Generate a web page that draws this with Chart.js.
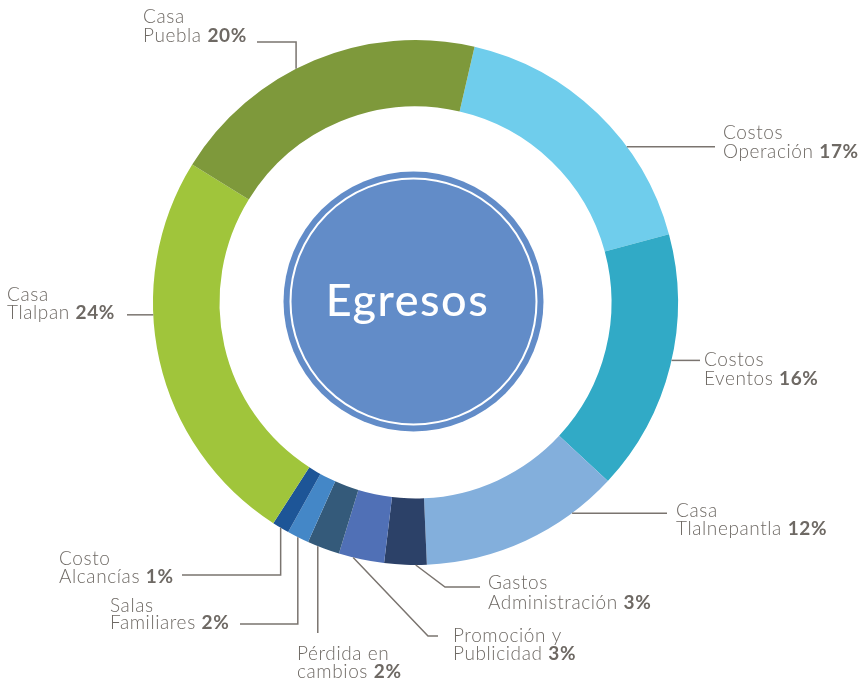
<!DOCTYPE html>
<html>
<head>
<meta charset="utf-8">
<script src="https://cdn.jsdelivr.net/npm/chart.js@4.4.0/dist/chart.umd.min.js"></script>
<style>
  html, body { margin: 0; padding: 0; background: #ffffff; }
  #wrap { width: 859px; height: 680px; position: relative; }
</style>
</head>
<body>
<div id="wrap"><canvas id="c" width="859" height="680"></canvas></div>
<script>
// ---- data ----
const categories = ["Costos Operación", "Costos Eventos", "Casa Tlalnepantla", "Gastos Administración",
  "Promoción y Publicidad", "Pérdida en cambios", "Salas Familiares", "Costo Alcancías", "Casa Tlalpan", "Casa Puebla"];
const values = [17.2, 16.1, 12.4, 2.6, 2.8, 2.0, 1.35, 1.05, 24.7, 19.8];
const percentLabels = ["17%", "16%", "12%", "3%", "3%", "2%", "2%", "1%", "24%", "20%"];
const labelLine1 = ["Costos", "Costos", "Casa", "Gastos", "Promoción y", "Pérdida en", "Salas", "Costo", "Casa", "Casa"];
const labelLine2 = ["Operación", "Eventos", "Tlalnepantla", "Administración", "Publicidad", "cambios", "Familiares", "Alcancías", "Tlalpan", "Puebla"];
const colors = ["#6fcdec", "#31aac6", "#83afdc", "#2c4168", "#5070b6", "#345a7a", "#4487c7", "#1d5597", "#a0c53b", "#7e993b"];
const centerTitle = "Egresos";

// ---- label layout (positions only) ----
const labelLayout = [
  { x: 723, y1: 139, y2: 158, f: 0.656, type: "h", toX: 715 },
  { x: 704, y1: 366, y2: 385, f: 0.48, type: "h", toX: 700 },
  { x: 676, y1: 517, y2: 535, f: 0.235, type: "h", toX: 667 },
  { x: 488, y1: 589, y2: 609, f: 0.26, type: "d", elbow: [445, 587], toX: 480 },
  { x: 453, y1: 642, y2: 660, f: 0.68, type: "d", elbow: [428, 636], toX: 438 },
  { x: 297, y1: 660, y2: 678, f: 0.68, type: "v", toY: 633 },
  { x: 110, y1: 612, y2: 629, f: 0.51, type: "v", toY: 624, toX: 240 },
  { x: 59, y1: 565, y2: 583, f: 0.5, type: "v", toY: 575, toX: 182 },
  { x: 7, y1: 301, y2: 319, f: 0.613, type: "h", toX: 127 },
  { x: 143, y1: 23, y2: 42, f: 0.438, type: "v", toY: 42, toX: 257 }
];

const TEXT_COLOR = "#6e6964";
const LINE_COLOR = "#7a746f";
const FONT_FAMILY = "Lato, 'Open Sans', sans-serif";

const labelsPlugin = {
  id: "labelsPlugin",
  afterDatasetsDraw(chart) {
    const ctx = chart.ctx;
    const meta = chart.getDatasetMeta(0);
    const first = meta.data[0];
    const cx = first.x, cy = first.y;

    // center circle
    ctx.save();
    ctx.beginPath();
    ctx.arc(cx - 2, cy - 1, 130, 0, Math.PI * 2);
    ctx.fillStyle = "#628cc8";
    ctx.fill();
    ctx.beginPath();
    ctx.arc(cx - 2, cy - 1, 123, 0, Math.PI * 2);
    ctx.strokeStyle = "#ffffff";
    ctx.lineWidth = 2;
    ctx.stroke();
    ctx.fillStyle = "#ffffff";
    ctx.font = "500 45px " + FONT_FAMILY;
    ctx.letterSpacing = "1.5px";
    ctx.textAlign = "center";
    ctx.textBaseline = "alphabetic";
    ctx.fillText(centerTitle, cx - 8, cy + 13);
    ctx.restore();

    // leaders + labels
    meta.data.forEach((arc, i) => {
      const L = labelLayout[i];
      const a = arc.startAngle + L.f * (arc.endAngle - arc.startAngle);
      const px = arc.x + arc.outerRadius * Math.cos(a);
      const py = arc.y + arc.outerRadius * Math.sin(a);
      ctx.save();
      ctx.strokeStyle = LINE_COLOR;
      ctx.lineWidth = 1.5;
      ctx.beginPath();
      ctx.moveTo(px, py);
      if (L.type === "h") {
        ctx.lineTo(L.toX, py);
      } else if (L.type === "v") {
        ctx.lineTo(px, L.toY);
        if (L.toX !== undefined) ctx.lineTo(L.toX, L.toY);
      } else if (L.type === "d") {
        ctx.lineTo(L.elbow[0], L.elbow[1]);
        ctx.lineTo(L.toX, L.elbow[1]);
      }
      ctx.stroke();

      ctx.fillStyle = TEXT_COLOR;
      ctx.textAlign = "left";
      ctx.textBaseline = "alphabetic";
      ctx.letterSpacing = "0.6px";
      const normal = "300 19px " + FONT_FAMILY;
      const bold = "700 19px " + FONT_FAMILY;
      ctx.font = normal;
      ctx.fillText(labelLine1[i], L.x, L.y1);
      const t2 = labelLine2[i] + " ";
      ctx.fillText(t2, L.x, L.y2);
      const w = ctx.measureText(t2).width;
      ctx.font = bold;
      ctx.fillText(percentLabels[i], L.x + w, L.y2);
      ctx.restore();
    });
  }
};

new Chart(document.getElementById("c"), {
  type: "doughnut",
  data: {
    labels: categories,
    datasets: [{
      data: values,
      backgroundColor: colors,
      borderWidth: 0,
      hoverOffset: 0
    }]
  },
  options: {
    responsive: false,
    animation: false,
    rotation: 13,
    cutout: 196,
    layout: { padding: { top: 40, bottom: 115, left: 153, right: 181 } },
    plugins: {
      legend: { display: false },
      tooltip: { enabled: false }
    },
    events: []
  },
  plugins: [labelsPlugin]
});
</script>
</body>
</html>
